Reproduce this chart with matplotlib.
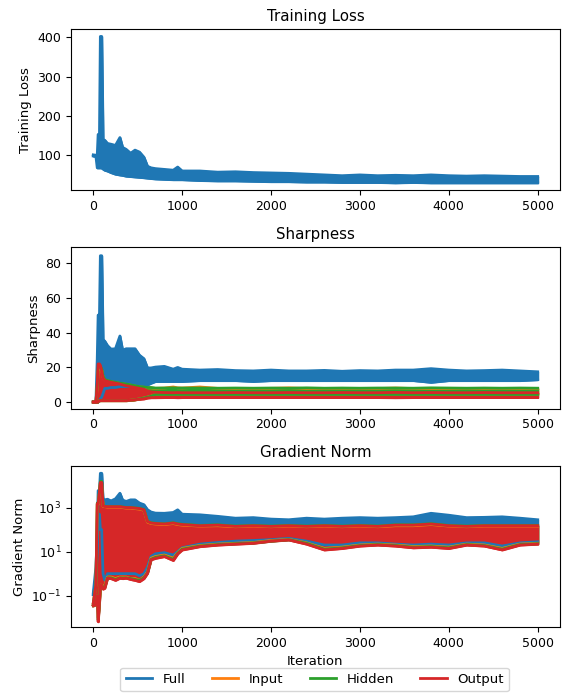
import matplotlib.pyplot as plt
from matplotlib.ticker import NullLocator

iters = [0, 30, 45, 55, 70, 80, 95, 110, 130, 160,
         200, 250, 300, 330, 370, 420, 470, 520, 570, 610,
         650, 700, 800, 900, 950, 1000, 1200, 1400, 1600, 1800,
         2000, 2200, 2400, 2600, 2800, 3000, 3200, 3400, 3600, 3800,
         4000, 4200, 4400, 4600, 4800, 5000]

# training loss (Full only): lower / upper edge of the oscillation band
loss_lo = [98, 97, 68, 68, 68, 68, 68, 65, 62, 60,
           56, 52, 50, 49, 47, 46, 45, 44, 43, 42,
           41, 40, 39, 38, 38, 38, 36, 35, 35, 34,
           33, 33, 32, 32, 31, 31, 31, 30, 31, 30,
           30, 30, 30, 30, 30, 30]
loss_hi = [101, 100, 100, 153, 153, 402, 402, 140, 138, 130,
           128, 125, 145, 120, 115, 105, 113, 108, 95, 72,
           68, 66, 64, 62, 70, 60, 60, 57, 58, 56,
           55, 54, 52, 50, 48, 50, 48, 49, 48, 50,
           48, 47, 48, 47, 46, 46]

# sharpness
sharp_full_lo = [0, 0, 0, 0.5, 1, 2, 3, 5, 8, 8,
                 8.5, 8.5, 9, 9, 9, 9, 9, 9, 9, 10,
                 11, 12, 12, 12, 12, 12, 12.5, 12.5, 12.5, 12,
                 12.5, 12.5, 12.5, 12.5, 12.5, 12.5, 12.5, 12.5, 12.5, 11.5,
                 12.5, 12.5, 12.5, 12.5, 12.5, 13]
sharp_full_hi = [0.5, 0.5, 25, 50, 50, 84, 84, 36, 35, 32.5,
                 30.5, 30.7, 38, 29.8, 30.7, 30.7, 30.7, 27, 25, 19.7,
                 19.7, 20.2, 20.6, 19, 20, 19, 18.5, 18.8, 18.2, 18,
                 18.5, 18, 18, 18.3, 17.8, 18.2, 18, 18.5, 18.5, 19.3,
                 18.5, 18, 18.2, 18.5, 18, 17.5]
sharp_input_lo = [0, 0, 0, 0.5, 1, 1, 1, 1, 1, 1,
                  1, 1, 1, 1, 1, 1.2, 1.5, 2, 2.5, 3,
                  3.5, 4.5, 4.5, 4.5, 4.5, 4.5, 4.5, 4.5, 4.5, 4.5,
                  4.5, 4.5, 4.5, 4.5, 4.5, 4.5, 4.5, 4.5, 4.5, 4.5,
                  4.5, 4.5, 4.5, 4.5, 4.5, 4.5]
sharp_input_hi = [0.3, 0.3, 9, 18, 19, 19.5, 18.5, 14.5, 12.8, 12.3,
                  11.8, 11.3, 10.8, 10.6, 10.3, 9.8, 9.3, 8.8, 8.6, 8.3,
                  8.3, 8, 8.2, 8.8, 8.3, 8.2, 8.8, 8, 7.9, 7.9,
                  8, 8.3, 7.9, 7.9, 8, 7.9, 7.9, 8.2, 7.9, 7.9,
                  7.9, 8, 7.9, 7.9, 7.9, 7.9]
sharp_hidden_lo = [0, 0, 0, 0.5, 1, 1, 1, 1, 1, 1,
                   1, 1, 1, 1, 1, 1.2, 1.5, 2, 2.5, 3,
                   3.5, 4.5, 4.5, 4.5, 4.5, 4.5, 4.5, 4.5, 4.5, 4.5,
                   4.5, 4.5, 4.5, 4.5, 4.5, 4.5, 4.5, 4.5, 4.5, 4.5,
                   4.5, 4.5, 4.5, 4.5, 4.5, 4.5]
sharp_hidden_hi = [0.3, 0.3, 10, 20, 20.5, 20.5, 19, 15, 13, 12.5,
                   12, 11.5, 11, 10.8, 10.5, 10, 9.5, 9, 8.8, 8.5,
                   8.5, 8.2, 8.2, 8.3, 8.2, 8.2, 8.2, 8.1, 8.2, 8.1,
                   8.2, 8.1, 8.3, 8.1, 8.2, 8.1, 8.2, 8.2, 8.1, 8.3,
                   8.2, 8.1, 8.2, 8.1, 8.2, 8.1]
sharp_output_lo = [0, 0, 0, 0.5, 1, 1, 1, 1, 1, 1,
                   1, 1, 1, 1, 1, 1.2, 1.5, 1.8, 2, 2.5,
                   2.7, 2.7, 2.8, 2.8, 2.7, 2.8, 2.8, 2.8, 2.8, 2.8,
                   2.8, 2.8, 2.8, 2.8, 2.8, 2.8, 2.8, 2.7, 2.8, 2.8,
                   2.8, 2.8, 2.8, 2.8, 2.8, 2.8]
sharp_output_hi = [0.3, 0.3, 10, 22, 22, 21, 18, 14, 12.5, 12,
                   11.5, 11, 10.5, 10, 9.5, 9, 8.5, 8, 7.5, 6.5,
                   6, 5.8, 5.6, 5.5, 5.6, 5.5, 5.5, 5.5, 5.6, 5.5,
                   5.5, 5.6, 5.5, 5.5, 5.6, 5.5, 5.5, 5.7, 5.5, 5.6,
                   5.5, 5.5, 5.6, 5.5, 5.5, 5.5]

# gradient norm (log scale)
grad_full_lo = [0.11, 0.5, 10, 500, 500, 100, 100, 1, 0.5, 1,
                1, 1, 1, 1, 1, 1, 1, 0.8, 1, 2,
                6, 8, 9, 7, 10, 15, 22, 26, 30, 32,
                35, 40, 30, 20, 20, 25, 25, 22, 20, 22,
                20, 25, 25, 18, 25, 28]
grad_full_hi = [0.13, 2, 50, 5900, 5900, 36000, 36000, 2200, 2240, 2400,
                2000, 2500, 4470, 2200, 1900, 2240, 2240, 1600, 1350, 800,
                630, 560, 550, 600, 790, 500, 470, 400, 330, 350,
                300, 280, 330, 300, 330, 350, 330, 350, 380, 550,
                450, 350, 360, 380, 330, 280]
grad_input_lo = [0.035, 0.04, 0.1, 0.01, 0.06, 0.3, 0.3, 0.25, 0.3, 0.7,
                 0.7, 0.6, 0.7, 0.7, 0.7, 0.6, 0.6, 0.5, 0.7, 1.2,
                 5, 6, 7, 5, 9, 14, 19, 22, 24, 26,
                 32, 36, 25, 14, 16, 20, 22, 20, 17, 18,
                 16, 22, 20, 14, 22, 24]
grad_input_hi = [0.045, 0.3, 1400, 1400, 4800, 13000, 13000, 1150, 1100, 1050,
                 1050, 1050, 1050, 1000, 950, 950, 900, 850, 760, 220,
                 190, 180, 170, 190, 170, 160, 145, 150, 135, 145,
                 135, 145, 135, 145, 135, 145, 135, 150, 150, 170,
                 145, 135, 145, 145, 145, 145]
grad_hidden_lo = [0.035, 0.04, 0.1, 0.008, 0.055, 0.3, 0.3, 0.22, 0.25, 0.65,
                  0.65, 0.55, 0.65, 0.65, 0.65, 0.6, 0.55, 0.5, 0.65, 1.1,
                  4.5, 5.5, 6.5, 4.5, 8.5, 13, 18, 21, 23, 25,
                  30, 35, 24, 13, 15, 19, 21, 19, 16, 17,
                  15, 21, 19, 13, 21, 23]
grad_hidden_hi = [0.045, 0.3, 1600, 1600, 5500, 15500, 15500, 1250, 1150, 1120,
                  1120, 1120, 1120, 1070, 1020, 1020, 970, 920, 820, 240,
                  205, 195, 185, 205, 185, 175, 155, 165, 145, 155,
                  145, 155, 145, 155, 145, 155, 145, 165, 165, 185,
                  155, 145, 155, 155, 155, 155]
grad_output_lo = [0.035, 0.04, 0.1, 0.0066, 0.05, 0.3, 0.3, 0.2, 0.22, 0.63,
                  0.6, 0.5, 0.63, 0.6, 0.63, 0.55, 0.5, 0.44, 0.6, 1.05,
                  4.3, 5, 6, 4, 8, 12, 17, 20, 22, 24,
                  30, 34, 22, 12, 14, 18, 20, 18, 15, 16,
                  14, 20, 18, 12, 20, 22]
grad_output_hi = [0.045, 0.3, 1500, 1500, 5000, 13800, 13800, 1200, 1120, 1100,
                  1100, 1100, 1100, 1050, 1000, 1000, 950, 900, 800, 234,
                  200, 190, 180, 200, 180, 170, 150, 160, 140, 150,
                  140, 150, 140, 150, 140, 150, 140, 160, 160, 180,
                  150, 140, 150, 150, 150, 150]

names = ["Full", "Input", "Hidden", "Output"]
colors = ["tab:blue", "tab:orange", "tab:green", "tab:red"]

plt.rcParams["font.size"] = 9
plt.rcParams["axes.labelsize"] = 9.5


def band(ax, lo, hi, color, label=None):
    ax.fill_between(iters, lo, hi, color=color, edgecolor=color, lw=1.5)
    ax.plot(iters, hi, color=color, lw=2, label=label)
    ax.plot(iters, lo, color=color, lw=2)


fig, axes = plt.subplots(3, 1, figsize=(5.65, 7), dpi=100)
plt.subplots_adjust(left=0.1257, right=0.991, top=0.9586, bottom=0.1043, hspace=0.354)

ax = axes[0]
band(ax, loss_lo, loss_hi, colors[0], names[0])
ax.set_title("Training Loss")
ax.set_ylabel("Training Loss")
ax.set_ylim(11, 421)

ax = axes[1]
sharp = [(sharp_full_lo, sharp_full_hi), (sharp_input_lo, sharp_input_hi),
         (sharp_hidden_lo, sharp_hidden_hi), (sharp_output_lo, sharp_output_hi)]
for (lo, hi), c, n in zip(sharp, colors, names):
    band(ax, lo, hi, c, n)
ax.set_title("Sharpness")
ax.set_ylabel("Sharpness")
ax.set_ylim(-3.6, 88.8)

ax = axes[2]
grad = [(grad_full_lo, grad_full_hi), (grad_input_lo, grad_input_hi),
        (grad_hidden_lo, grad_hidden_hi), (grad_output_lo, grad_output_hi)]
for (lo, hi), c, n in zip(grad, colors, names):
    band(ax, lo, hi, c, n)
ax.set_yscale("log")
ax.set_yticks([0.1, 10, 1000])
ax.yaxis.set_minor_locator(NullLocator())
ax.set_ylim(10 ** -2.42, 10 ** 4.9)
ax.set_title("Gradient Norm")
ax.set_ylabel("Gradient Norm")
ax.set_xlabel("Iteration")

for ax in axes:
    ax.set_xlim(-250, 5250)
    ax.set_xticks([0, 1000, 2000, 3000, 4000, 5000])

handles, labels = axes[1].get_legend_handles_labels()
fig.legend(handles, labels, loc="lower center", ncol=4, fontsize=9.5,
           bbox_to_anchor=(0.557, 0.003))

plt.savefig("out.png", dpi=100)
